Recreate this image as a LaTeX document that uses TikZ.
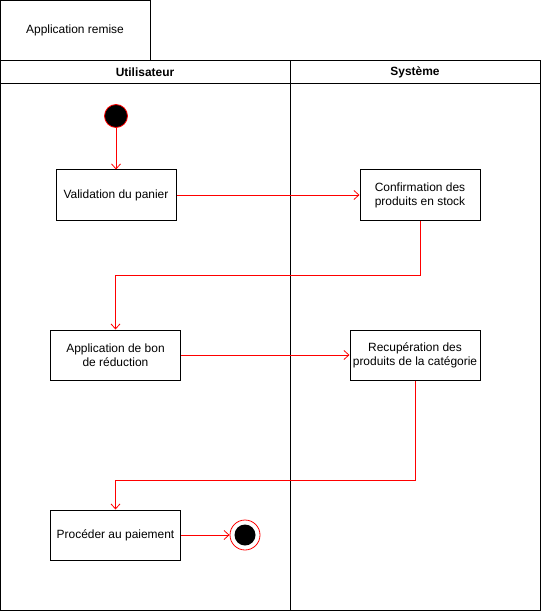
\documentclass[tikz,border=0pt]{standalone}
\usepackage{fontspec}
\setmainfont{Liberation Sans}
\usetikzlibrary{arrows.meta}
\begin{document}
\begin{tikzpicture}[x=1bp,y=-1bp,
	action/.style={draw, line width=1bp, minimum height=50bp, align=center, inner sep=2bp, font=\fontsize{12}{14}\selectfont},
	flow/.style={draw=red, line width=0.8bp, -{Straight Barb[length=5bp,width=9bp]}},
	lane/.style={font=\bfseries\fontsize{12}{14}\selectfont}]
	\useasboundingbox (0,0) rectangle (541,611);
	\draw[line width=1bp] (0.5,0.5) rectangle (150.5,60.5); %title
	\draw[line width=1bp] (0.5,60.5) rectangle (540.5,610.5); %pool
	\draw[line width=1bp] (0.5,83.5) -- (540.5,83.5); %header
	\draw[line width=1bp] (290.5,60.5) -- (290.5,610.5); %lanes
	
	\node at (75,30) (title) {\fontsize{12}{14}\selectfont Application remise};
	\node[lane] at (145,72) (user) {Utilisateur};
	\node[lane] at (415,72) (sys) {Système};
	
	\node[circle, draw=red, fill=black, line width=0.8bp, minimum size=23bp, inner sep=0pt] at (116,116) (start) {};
	\node[action, minimum width=120bp] at (116,195) (valid) {Validation du panier};
	\node[action, minimum width=120bp] at (420,195) (conf) {Confirmation des\\produits en stock};
	\node[action, minimum width=130bp] at (115.5,355) (appl) {Application de bon\\de réduction};
	\node[action, minimum width=130bp] at (415,355) (recup) {Recupération des\\produits de la catégorie};
	\node[action, minimum width=130bp] at (115.5,535) (pay) {Procéder au paiement};
	\node[circle, draw=red, line width=0.8bp, minimum size=30bp, inner sep=0pt] at (245,535) (end) {};
	\node[circle, fill=black, minimum size=21bp, inner sep=0pt] at (end) (endin) {};
	
	\coordinate (turn1) at (0,275);
	\coordinate (turn2) at (0,480);
	\draw[flow] (start) -- (valid);
	\draw[flow] (valid) -- (conf);
	\draw[flow] (conf.south) -- (conf.south |- turn1) -| (appl.north);
	\draw[flow] (appl) -- (recup);
	\draw[flow] (recup.south) -- (recup.south |- turn2) -| (pay.north);
	\draw[flow] (pay) -- (end);
\end{tikzpicture}
\end{document}
